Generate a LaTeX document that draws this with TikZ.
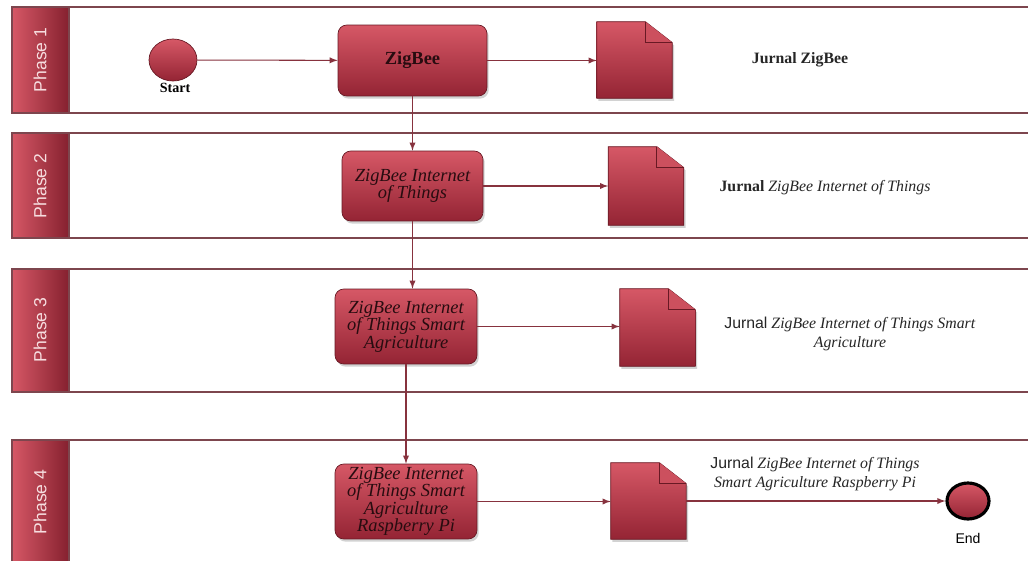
\documentclass[tikz,border=0pt]{standalone}
\usepackage{fontspec}
\setmainfont{Liberation Serif}
\setsansfont{Liberation Sans}
\usepackage{tikz}
\usetikzlibrary{shapes, arrows, calc, shadows}

\definecolor{redtop}{RGB}{214,88,102}
\definecolor{redbot}{RGB}{148,36,52}
\definecolor{laneline}{RGB}{125,70,78}
\definecolor{flowline}{RGB}{135,50,62}
\definecolor{boxtext}{RGB}{40,12,16}

\begin{document}
\begin{tikzpicture}[x=0.02cm, y=-0.02cm, >=latex]
      \tikzset{lane/.style={draw=laneline, line width=0.8pt, fill=white},
        lanehead/.style={draw=laneline, line width=0.8pt,
          left color=redtop, right color=redbot!90!black},
        phase/.style={rotate=90, text=white!80!redtop,
          font=\sffamily\fontsize{10}{12}\selectfont},
        task/.style={rectangle, rounded corners=5pt, draw=redbot!70!black,
          top color=redtop, bottom color=redbot, text=boxtext, align=center,
          inner sep=1pt, font=\fontsize{10.5}{10}\selectfont\itshape,
          drop shadow={opacity=0.35, shadow xshift=1pt, shadow yshift=-1.5pt}},
        docnode/.style={rectangle, minimum width=1.5cm, minimum height=1.52cm,
          inner sep=0pt},
        event/.style={ellipse, top color=redtop, bottom color=redbot,
          minimum width=0.96cm, minimum height=0.84cm, draw=redbot!70!black},
        note/.style={align=center, text=black!85,
          font=\fontsize{9}{10.5}\selectfont},
        flow/.style={draw=flowline, line width=0.6pt, ->}
      }
      \useasboundingbox (0,0) rectangle (1028,561);

      % lanes
      \draw [lane] (12,7) rectangle (1045,113);
      \draw [lane] (12,133) rectangle (1045,238);
      \draw [lane] (12,269) rectangle (1045,392);
      \draw [lane] (12,440) rectangle (1045,575);
      \draw [lanehead] (12,7) rectangle (69,113);
      \draw [lanehead] (12,133) rectangle (69,238);
      \draw [lanehead] (12,269) rectangle (69,392);
      \draw [lanehead] (12,440) rectangle (69,575);
      \node [phase] (p1) at (40,60) {Phase 1};
      \node [phase] (p2) at (40,186) {Phase 2};
      \node [phase] (p3) at (40,330) {Phase 3};
      \node [phase] (p4) at (40,502) {Phase 4};

      % events
      \node [event] (start) at (173,60) {};
      \node [font=\bfseries\fontsize{8}{9}\selectfont] (startlbl) at (175,88) {Start};
      \node [event, draw=black, line width=1.8pt, minimum width=0.84cm,
        minimum height=0.72cm] (end) at (968,501) {};
      \node [font=\sffamily\fontsize{8}{9}\selectfont] (endlbl) at (968,538) {End};

      % tasks
      \node [task, minimum width=2.98cm, minimum height=1.42cm,
        font=\bfseries\fontsize{10.5}{12}\selectfont] (z1) at (412.5,60.5) {ZigBee};
      \node [task, minimum width=2.82cm, minimum height=1.40cm] (z2) at (412.5,186)
        {ZigBee Internet\\of Things};
      \node [task, minimum width=2.84cm, minimum height=1.50cm] (z3) at (406,326.5)
        {ZigBee Internet\\of Things Smart\\Agriculture};
      \node [task, minimum width=2.84cm, minimum height=1.50cm] (z4) at (406,501.5)
        {ZigBee Internet\\of Things Smart\\Agriculture\\Raspberry Pi};

      % documents
      \node [docnode] (d1) at (634.5,60) {};
      \node [docnode, minimum height=1.56cm] (d2) at (646,186) {};
      \node [docnode, minimum height=1.54cm] (d3) at (657.5,327.5) {};
      \node [docnode] (d4) at (648.5,501) {};
      \foreach \d in {d1,d2,d3,d4} {
        \path [top color=redtop, bottom color=redbot, draw=redbot!70!black,
          drop shadow={opacity=0.35, shadow xshift=1pt, shadow yshift=-1.5pt}]
          (\d.south west) -- (\d.north west) -- ($(\d.north east)+(-27,0)$)
          -- ($(\d.north east)+(0,21)$) -- (\d.south east) -- cycle;
        \draw [redbot!70!black, fill=redtop!85!redbot]
          ($(\d.north east)+(-27,0)$) -- ($(\d.north east)+(-27,21)$)
          -- ($(\d.north east)+(0,21)$);
      }

      % notes
      \node [note] (j1) at (800,60) {\textbf{Jurnal ZigBee}};
      \node [note] (j2) at (825,188) {\textbf{Jurnal} \textit{ZigBee Internet of Things}};
      \node [note] (j3) at (850,334) {\textsf{Jurnal} \textit{ZigBee Internet of Things Smart}\\
        \textit{Agriculture}};
      \node [note] (j4) at (815,474) {\textsf{Jurnal} \textit{ZigBee Internet of Things}\\
        \textit{Smart Agriculture Raspberry Pi}};

      % flow
      \draw [flow] (start)--(z1);
      \draw [flow] (z1)--(z1 -| d1.west);
      \draw [flow] (z1)--(z2);
      \draw [flow] (z2.east)--(z2.east -| d2.west);
      \draw [flow] (z2.south)--(z2.south |- z3.north);
      \draw [flow] (z3.east)--(z3.east -| d3.west);
      \draw [flow] (z3)--(z4);
      \draw [flow] (z4.east)--(z4.east -| d4.west);
      \draw [flow] (d4.east)--(d4.east -| end.west);
    \end{tikzpicture}
\end{document}
